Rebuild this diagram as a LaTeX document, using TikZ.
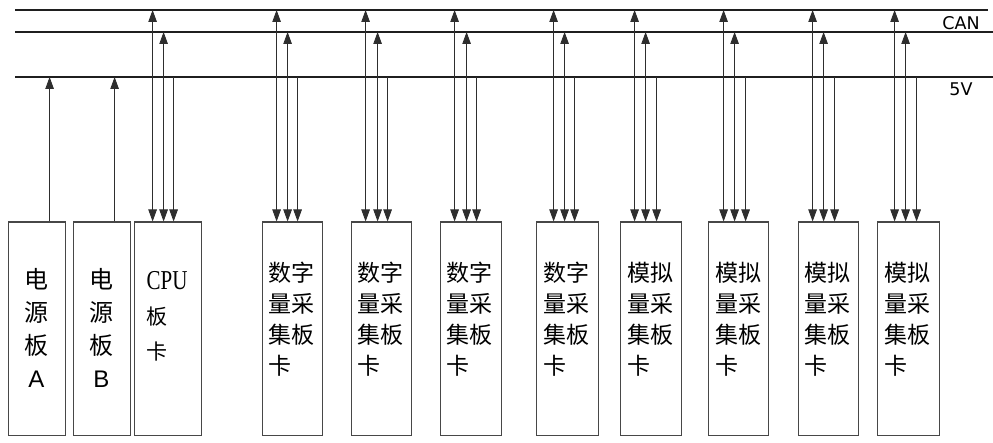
\documentclass[tikz,border=0pt]{standalone}
\usepackage{fontspec}
\setmainfont{Liberation Serif}
\newfontfamily\cjk{Noto Sans CJK SC}
\newfontfamily\lsans{Liberation Sans}
\newfontfamily\dsans{DejaVu Sans}
\usetikzlibrary{arrows.meta}
\begin{document}
\begin{tikzpicture}[x=1pt,y=-1pt,
  card/.style={draw=black!72, line width=1.2pt, minimum width=#1, minimum height=213pt, inner sep=0pt, anchor=north west},
  bus/.style={line width=1.8pt, draw=black!88},
  conn/.style={line width=0.9pt, draw=black!82},
  uptip/.style={-{Triangle[length=12pt,width=8.5pt]}},
  bitip/.style={{Triangle[length=12pt,width=8.5pt]}-{Triangle[length=12pt,width=8.5pt]}},
  pwrtext/.style={anchor=north, align=center, inner sep=0pt, font=\cjk\fontsize{24}{33}\selectfont},
  cardtext/.style={anchor=north west, align=left, inner sep=0pt, font=\cjk\fontsize{23}{31}\selectfont},
  cputext/.style={anchor=north west, align=left, inner sep=0pt, font=\fontsize{21}{35}\selectfont},
  buslabel/.style={inner sep=0pt, font=\dsans\fontsize{17.5}{20}\selectfont}
]
\useasboundingbox (0,0) rectangle (993,443);
\fill[white] (0,0) rectangle (993,443);

% bus lines
\coordinate (canA-l) at (15,10);  \coordinate (canA-r) at (988,10);
\coordinate (canB-l) at (15,32);  \coordinate (canB-r) at (993,32);
\coordinate (v5-l)   at (15,77);  \coordinate (v5-r)   at (993,77);
\draw[bus] (canA-l) -- (canA-r);
\draw[bus] (canB-l) -- (canB-r);
\draw[bus] (v5-l) -- (v5-r);
\node[buslabel] (lcan) at (961,23) {CAN};
\node[buslabel] (l5v) at (961,89) {5V};

% cards
\node[card=57pt] (b1) at (8,221.5) {};
\node[card=57pt] (b2) at (73,221.5) {};
\node[card=67pt] (b3) at (134,221.5) {};
\node[card=60pt] (b4) at (262,221.5) {};
\node[card=60pt] (b5) at (351,221.5) {};
\node[card=61pt] (b6) at (440,221.5) {};
\node[card=62pt] (b7) at (536,221.5) {};
\node[card=61pt] (b8) at (620,221.5) {};
\node[card=60pt] (b9) at (708,221.5) {};
\node[card=60pt] (b10) at (798,221.5) {};
\node[card=62pt] (b11) at (877,221.5) {};

% texts
\node[pwrtext] (t1) at (36.5,268) {电\\源\\板\\{\lsans A}};
\node[pwrtext] (t2) at (101.5,268) {电\\源\\板\\{\lsans B}};
\node[cputext] (t3) at (146.5,271.5) {\scalebox{1}[1.3]{CPU}\\{\cjk 板}\\{\cjk 卡}};
\foreach \b/\x in {4/268,5/357,6/446,7/543}
  \node[cardtext] (t\b) at (\x,261.5) {数字\\量采\\集板\\卡};
\foreach \b/\x in {8/627,9/715,10/804,11/884}
  \node[cardtext] (t\b) at (\x,261.5) {模拟\\量采\\集板\\卡};

% power connectors
\foreach \b in {b1,b2}
  \draw[conn,uptip] ([xshift=12.5pt]\b.north) -- ([xshift=12.5pt]\b.north |- v5-l);

% bus connectors
\foreach \b/\oa/\ob/\oc in {b3/-15.5/-4.5/5.5, b4/-16/-5/5, b5/-16/-4/6, b6/-16.5/-4.5/5.5,
  b7/-14/-3/7, b8/-16.5/-5.5/5.5, b9/-15/-4/7, b10/-16/-5/6, b11/-14/-3/8}{
  \draw[conn,bitip] ([xshift=\oa pt]\b.north) -- ([xshift=\oa pt]\b.north |- canA-l);
  \draw[conn,bitip] ([xshift=\ob pt]\b.north) -- ([xshift=\ob pt]\b.north |- canB-l);
  \draw[conn,uptip] ([xshift=\oc pt]\b.north |- v5-l) -- ([xshift=\oc pt]\b.north);
}
\end{tikzpicture}
\end{document}
